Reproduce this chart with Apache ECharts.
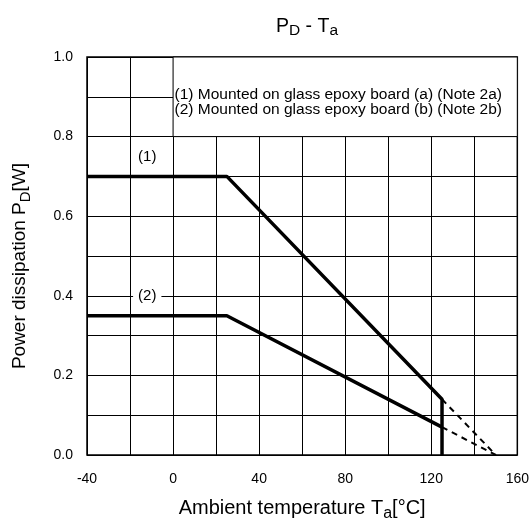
<!DOCTYPE html>
<html>
<head>
<meta charset="utf-8">
<script src="https://cdn.jsdelivr.net/npm/echarts@6/dist/echarts.min.js"></script>
<style>html,body{margin:0;padding:0;background:#fff;}#c{width:532px;height:527px;}</style>
</head>
<body>
<div id="c"></div>
<script>
// Data
var curve1 = [[-40, 0.7], [25, 0.7], [125, 0.14], [125, 0]];
var curve2 = [[-40, 0.35], [25, 0.35], [125, 0.07]];
var dashed1 = [[125, 0.14], [150, 0]];
var dashed2 = [[125, 0.07], [150, 0]];
var curveLabels = [[-12, 0.75, '(1)'], [-12, 0.4, '(2)']];
var noteBox = [[0, 0.8], [160, 1.0]];
var noteLines = ['(1) Mounted on glass epoxy board (a) (Note 2a)', '(2) Mounted on glass epoxy board (b) (Note 2b)'];
var xMin = -40, xMax = 160, xStep = 20, xLabelStep = 40;
var yMin = 0, yMax = 1.0, yStep = 0.1;

var FONT = 'Liberation Sans, Arial, sans-serif';
var chart = echarts.init(document.getElementById('c'), null, {renderer: 'canvas'});
var option = {
  animation: false,
  backgroundColor: '#fff',
  title: {
    text: '{n|P}{s|D}{n| - T}{s|a}',
    left: 302, top: 9, textAlign: 'center',
    textStyle: {
      fontWeight: 'normal',
      rich: {
        n: {fontFamily: FONT, fontSize: 19.5, color: '#000', fontWeight: 'normal'},
        s: {fontFamily: FONT, fontSize: 15.5, color: '#000', fontWeight: 'normal', padding: [9, 0, 0, 0]}
      }
    }
  },
  grid: {left: 87, right: 12, top: 57, bottom: 70, show: true, borderColor: '#000', borderWidth: 1.5, backgroundColor: 'transparent'},
  xAxis: {
    type: 'value', min: xMin, max: xMax, interval: xStep,
    name: '{n|Ambient temperature T}{s|a}{n|[°C]}',
    nameLocation: 'middle', nameGap: 40,
    nameTextStyle: {
      rich: {
        n: {fontFamily: FONT, fontSize: 20, color: '#000'},
        s: {fontFamily: FONT, fontSize: 16, color: '#000', padding: [11, 0, 0, 0]}
      }
    },
    axisLine: {show: false}, axisTick: {show: false},
    axisLabel: {
      fontFamily: FONT, fontSize: 14, color: '#000', margin: 17,
      formatter: function (v) { return (Math.round(v) % xLabelStep === 0) ? String(Math.round(v)) : ''; }
    },
    splitLine: {show: true, lineStyle: {color: '#000', width: 1}}
  },
  yAxis: {
    type: 'value', min: yMin, max: yMax, interval: yStep,
    name: '{n|Power dissipation P}{s|D}{n|[W]}',
    nameLocation: 'middle', nameGap: 54,
    nameTextStyle: {
      padding: [0, 20, 0, 0],
      rich: {
        n: {fontFamily: FONT, fontSize: 19, color: '#000'},
        s: {fontFamily: FONT, fontSize: 15, color: '#000', padding: [11, 0, 0, 0]}
      }
    },
    axisLine: {show: false}, axisTick: {show: false},
    axisLabel: {
      fontFamily: FONT, fontSize: 14, color: '#000', margin: 14,
      formatter: function (v) { return (Math.round(v * 10) % 2 === 0) ? v.toFixed(1) : ''; }
    },
    splitLine: {show: true, lineStyle: {color: '#000', width: 1}}
  },
  series: [
    {
      type: 'line', data: curve1, symbol: 'none', z: 5,
      lineStyle: {color: '#000', width: 3.5}
    },
    {
      type: 'line', data: curve2, symbol: 'none', z: 5,
      lineStyle: {color: '#000', width: 3.5}
    },
    {
      type: 'line', data: dashed1, symbol: 'none', z: 4,
      lineStyle: {color: '#000', width: 2, type: [6, 5]}
    },
    {
      type: 'line', data: dashed2, symbol: 'none', z: 4,
      lineStyle: {color: '#000', width: 2, type: [6, 5]},
      markArea: {
        silent: true,
        itemStyle: {color: '#fff', borderColor: '#000', borderWidth: 1},
        label: {
          show: true, position: 'insideLeft', distance: 2, offset: [0, 5],
          fontFamily: FONT, fontSize: 15.5, color: '#000', lineHeight: 15,
          formatter: noteLines.join('\n')
        },
        data: [[{coord: noteBox[0]}, {coord: noteBox[1]}]]
      }
    },
    {
      type: 'scatter', symbolSize: 0, z: 6,
      itemStyle: {color: '#000', opacity: 1},
      data: curveLabels.map(function (d) { return {value: [d[0], d[1]], name: d[2]}; }),
      label: {
        show: true, position: 'inside', formatter: '{b}',
        fontFamily: FONT, fontSize: 15, color: '#000', opacity: 1,
        backgroundColor: '#fff', padding: [1, 5]
      }
    }
  ]
};
chart.setOption(option);
</script>
</body>
</html>
